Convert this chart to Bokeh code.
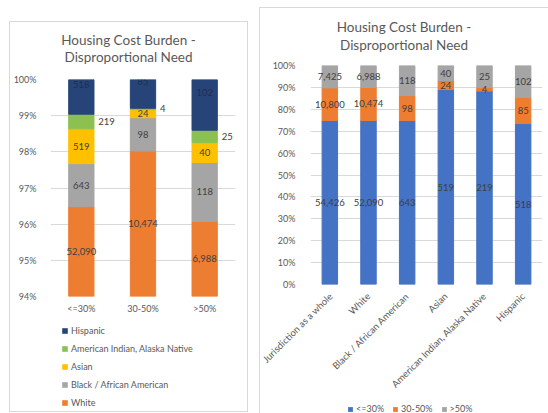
import numpy as np
from bokeh.plotting import figure
from bokeh.models import (FactorRange, Range1d, FixedTicker, PrintfTickFormatter,
                          Legend, LegendItem, ColumnDataSource, Div)
from bokeh.layouts import row, column
from bokeh.embed import file_html
from bokeh.resources import INLINE
from bokeh.core.properties import value

# ---------------- data ----------------
groups = ["Jurisdiction as a whole", "White", "Black / African American", "Asian",
          "American Indian, Alaska Native", "Hispanic"]
races = ["White", "Black / African American", "Asian", "American Indian, Alaska Native", "Hispanic"]
income_levels = ["<=30%", "30-50%", ">50%"]
le30 = [54426, 52090, 643, 519, 219, 518]
b3050 = [10800, 10474, 98, 24, 4, 85]
gt50 = [7425, 6988, 118, 40, 25, 102]

left_ticks = [94, 95, 96, 97, 98, 99, 100]
right_ticks = [0, 10, 20, 30, 40, 50, 60, 70, 80, 90, 100]
title_lines = ["Housing Cost Burden -", "Disproportional Need"]

race_colors = ["#ED7D31", "#A5A5A5", "#FFC000", "#8CC152", "#264478"]
income_colors = ["#4472C4", "#ED7D31", "#A5A5A5"]

FONT = "Lato"
AXC = "#595959"
LBC = "#404040"
LEFT_MIN = 94


def style(p):
    p.outline_line_color = None
    p.xgrid.grid_line_color = None
    p.ygrid.grid_line_color = "#D9D9D9"
    p.background_fill_color = "white"
    for ax in p.axis:
        ax.axis_line_color = None
        ax.major_tick_line_color = None
        ax.minor_tick_line_color = None
        ax.major_label_text_font = FONT
        ax.major_label_text_color = AXC
        ax.major_label_text_font_size = "9px"


def title_div(width, height, pad, lh):
    html = (f'<div style="padding-top:{pad}px;line-height:{lh}px;font-family:Lato;'
            f'font-size:13.5px;color:{AXC};text-align:center;width:{width}px">'
            + "<br>".join(title_lines) + "</div>")
    return Div(text=html, width=width, height=height, margin=0)


def legend_fig(width, height, xr, stackers, xcol, src, colors, labels, orientation,
               gw, lh, spacing, order):
    # legend-only panel: zero-width proxy bars from the same data, outside the visible range
    f = figure(width=width, height=height, x_range=FactorRange(*xr), y_range=Range1d(-2e6, -1e6),
               x_axis_type=None, y_axis_type=None, min_border=0,
               output_backend="svg", toolbar_location=None)
    f.outline_line_color = None
    f.xgrid.grid_line_color = None
    f.ygrid.grid_line_color = None
    rends = f.vbar_stack(stackers, x=xcol, width=0, fill_color=colors, line_color=None,
                         source=src)
    items = [LegendItem(label=labels[i], renderers=[rends[i]]) for i in order]
    leg = Legend(items=items, orientation=orientation, location="top_left",
                 label_text_font=FONT, label_text_font_size="9px", label_text_color=AXC,
                 glyph_width=gw, glyph_height=gw, label_height=lh, spacing=spacing,
                 padding=0, margin=0, border_line_color=None, background_fill_alpha=0,
                 label_standoff=3)
    f.add_layout(leg)
    return f


# ---------------- left chart ----------------
counts_by_level = [le30[1:], b3050[1:], gt50[1:]]
left_data = {"level": income_levels}
for i, r in enumerate(races):
    left_data[r] = [c[i] / sum(c) * 100 for c in counts_by_level]
lsrc = ColumnDataSource(left_data)

pl = figure(x_range=FactorRange(*income_levels, range_padding=0), y_range=Range1d(LEFT_MIN, 100),
            width=237, height=251, min_border_left=36, min_border_right=12,
            min_border_top=8, min_border_bottom=26,
            output_backend="svg", toolbar_location=None)
pl.vbar_stack(races, x="level", width=0.41, color=race_colors, source=lsrc)

for i, r in enumerate(races):
    xs, ys, txt = [], [], []
    for j, lev in enumerate(income_levels):
        c = counts_by_level[j]
        tot = sum(c)
        bottom = max(sum(c[:i]) / tot * 100, LEFT_MIN)
        top = sum(c[:i + 1]) / tot * 100
        xs.append(lev)
        ys.append((bottom + top) / 2)
        txt.append(f"{c[i]:,}")
    src = ColumnDataSource(dict(x=xs, y=ys, t=txt))
    if r == "American Indian, Alaska Native":
        pl.text(x="x", y="y", text="t", source=src, text_font=value(FONT),
                text_font_size="9.5px", text_color=LBC, text_align="left",
                text_baseline="middle", x_offset=17)
    elif r == "Hispanic":
        pl.text(x="x", y="y", text="t", source=src, text_font=value(FONT),
                text_font_size="9.5px", text_color="#1f3050", text_align="center",
                text_baseline="middle", y_offset=-12)
    else:
        pl.text(x="x", y="y", text="t", source=src, text_font=value(FONT),
                text_font_size="9.5px", text_color=LBC, text_align="center",
                text_baseline="middle")

style(pl)
pl.yaxis.ticker = FixedTicker(ticks=left_ticks)
pl.yaxis.formatter = PrintfTickFormatter(format="%d%%")
pl.yaxis.major_label_standoff = 8
pl.xaxis.major_label_standoff = 0

lleg_fig = legend_fig(205, 86, income_levels, races, "level", lsrc, race_colors, races,
                      "vertical", 7, 11, 7, list(reversed(range(len(races)))))
lleg_fig.margin = (3, 0, 0, 11)

left_panel = column(title_div(237, 49, 10, 17), pl, lleg_fig, spacing=0)
left_panel.margin = (22, 0, 0, 10)
left_panel.styles = {"outline": "1px solid #D9D9D9"}

# ---------------- right chart ----------------
totals = [a + b + c for a, b, c in zip(le30, b3050, gt50)]
p1 = [a / t * 100 for a, t in zip(le30, totals)]
p2 = [b / t * 100 for b, t in zip(b3050, totals)]
p3 = [c / t * 100 for c, t in zip(gt50, totals)]
rsrc = ColumnDataSource(dict(g=groups, p1=p1, p2=p2, p3=p3))

pr = figure(x_range=FactorRange(*groups, range_padding=0), y_range=Range1d(0, 100),
            width=288, height=339, min_border_left=50, min_border_right=6,
            min_border_top=8, min_border_bottom=112,
            output_backend="svg", toolbar_location=None)
pr.vbar_stack(["p1", "p2", "p3"], x="g", width=0.4, color=income_colors, source=rsrc)

for k, (vals, pcts) in enumerate([(le30, p1), (b3050, p2), (gt50, p3)]):
    ys = []
    for j in range(len(groups)):
        bottom = sum([p1, p2, p3][m][j] for m in range(k))
        ys.append(bottom + pcts[j] / 2)
    src = ColumnDataSource(dict(x=groups, y=ys, t=[f"{v:,}" for v in vals]))
    pr.text(x="x", y="y", text="t", source=src, text_font=value(FONT),
            text_font_size="9.5px", text_color=LBC, text_align="center",
            text_baseline="middle")

style(pr)
pr.yaxis.ticker = FixedTicker(ticks=right_ticks)
pr.yaxis.formatter = PrintfTickFormatter(format="%d%%")
pr.yaxis.major_label_standoff = 9
pr.xaxis.major_label_orientation = np.pi / 4
pr.xaxis.major_label_standoff = 4
pr.xaxis.major_label_text_font_size = "9.5px"

rleg_fig = legend_fig(240, 10, groups, ["p1", "p2", "p3"], "g", rsrc, income_colors,
                      income_levels, "horizontal", 6, 10, 8, [0, 1, 2])
rleg_fig.margin = (7, 0, 0, 37)

right_panel = column(title_div(288, 49, 10, 18), pr, rleg_fig, spacing=0)
right_panel.margin = (8, 0, 0, 13)
right_panel.styles = {"outline": "1px solid #D9D9D9"}

layout = row(left_panel, right_panel, spacing=0)
open("out.html", "w").write(file_html(layout, INLINE))
